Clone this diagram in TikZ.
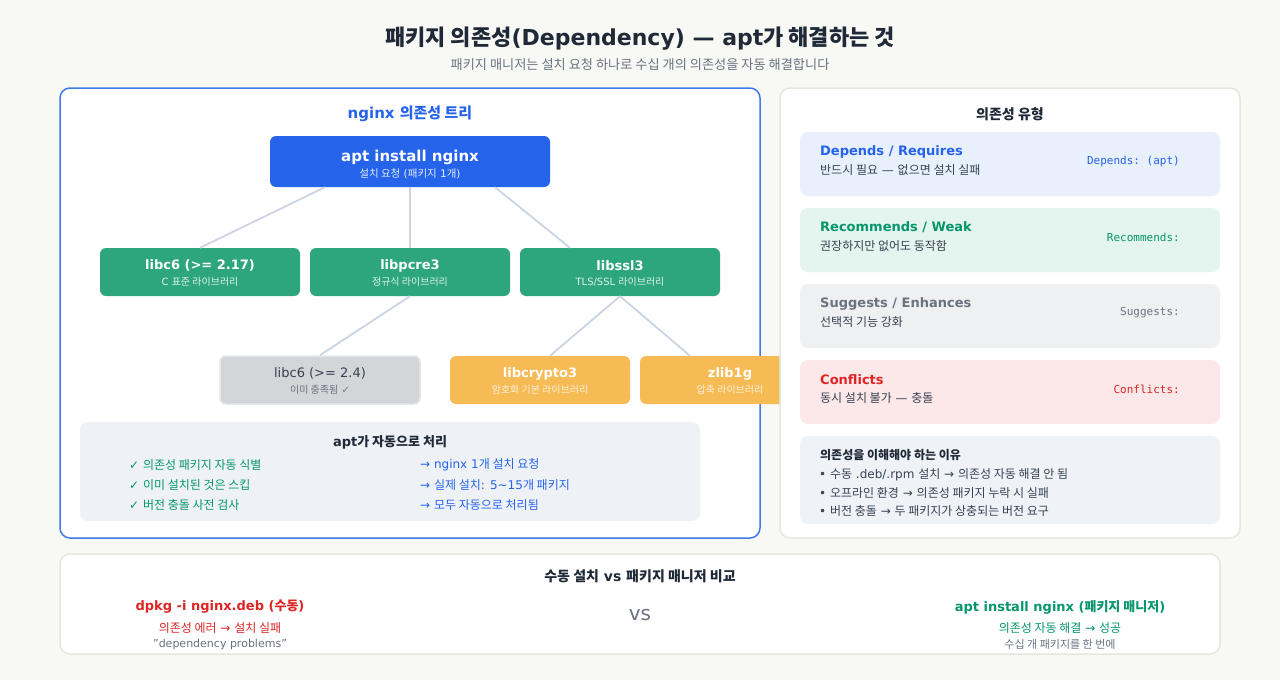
\documentclass[tikz,border=0pt]{standalone}
\usepackage{fontspec}
\setmainfont{DejaVu Sans}
\setmonofont{DejaVu Sans Mono}
\newfontfamily\krfont{Noto Sans CJK KR}
\newcommand\kr[1]{{\krfont #1}}
\newcommand\fsz[1]{\fontsize{#1}{#1}\selectfont}
\definecolor{bgc}{HTML}{F8F9F5}
\definecolor{darktxt}{HTML}{1F2937}
\definecolor{bodytxt}{HTML}{374151}
\definecolor{graytxt}{HTML}{6B7280}
\definecolor{aptblue}{HTML}{2563EB}
\definecolor{panelblue}{HTML}{4079EC}
\definecolor{boxgreen}{HTML}{2DA67E}
\definecolor{txtgreen}{HTML}{059669}
\definecolor{boxorange}{HTML}{F7BB55}
\definecolor{boxgray}{HTML}{D4D5D9}
\definecolor{boxgrayb}{HTML}{E6E7EA}
\definecolor{linkc}{HTML}{CBD5E1}
\definecolor{panelb}{HTML}{E5E7DE}
\definecolor{depfill}{HTML}{E8EFFD}
\definecolor{recfill}{HTML}{E4F4EE}
\definecolor{sugfill}{HTML}{EFF0F2}
\definecolor{confill}{HTML}{FCE8E8}
\definecolor{whyfill}{HTML}{EFF3F8}
\definecolor{aptfill}{HTML}{EEF2F7}
\definecolor{redtxt}{HTML}{DC2626}
\tikzset{
  panel/.style={draw=panelb, line width=1.5pt, fill=white, rounded corners=10pt, inner sep=0pt},
  pkgbox/.style={rounded corners=6pt, inner sep=0pt, minimum height=48pt},
  typebox/.style={rounded corners=8pt, inner sep=0pt, minimum width=420pt, minimum height=64pt},
  txt/.style={inner sep=0pt, text=bodytxt},
  link/.style={draw=linkc, line width=1.8pt},
}
\begin{document}
\begin{tikzpicture}[x=1pt,y=-1pt]
\useasboundingbox[fill=bgc] (0,0) rectangle (1280,680);
% title
\node[txt, text=darktxt, font=\fsz{22}\bfseries] (title) at (640,38.5) {\kr{패키지 의존성}(Dependency) — apt\kr{가 해결하는 것}};
\node[txt, text=graytxt, font=\fsz{13.2}] (subtitle) at (640,65) {\kr{패키지 매니저는 설치 요청 하나로 수십 개의 의존성을 자동 해결합니다}};
% left panel
\node[panel, draw=panelblue, minimum width=700pt, minimum height=450pt] (leftpanel) at (410,313) {};
\node[txt, text=aptblue, font=\fsz{15}\bfseries] (treetitle) at (410,114) {nginx \kr{의존성 트리}};
% top node
\node[pkgbox, fill=aptblue, minimum width=280pt, minimum height=51pt] (apt) at (410,161.5) {};
% level 1
\node[pkgbox, fill=boxgreen, minimum width=200pt] (libc) at (200,272) {};
\node[pkgbox, fill=boxgreen, minimum width=200pt] (pcre) at (410,272) {};
\node[pkgbox, fill=boxgreen, minimum width=200pt] (ssl) at (620,272) {};
% level 2
\node[pkgbox, fill=boxgray, draw=boxgrayb, line width=1.5pt, minimum width=200pt] (libcold) at (320,380) {};
\node[pkgbox, fill=boxorange, minimum width=180pt] (crypto) at (540,380) {};
\node[pkgbox, fill=boxorange, minimum width=180pt] (zlib) at (730,380) {};
% connectors
\draw[link] ([xshift=-85pt]apt.south) -- (libc.north);
\draw[link] (apt.south) -- (pcre.north);
\draw[link] ([xshift=85pt]apt.south) -- ([xshift=-50pt]ssl.north);
\draw[link] (pcre.south) -- (libcold.north);
\draw[link] (ssl.south) -- ([xshift=10pt]crypto.north);
\draw[link] (ssl.south) -- ([xshift=-40pt]zlib.north);
% texts in nodes
\node[txt, text=white, font=\fsz{15}\bfseries] (aptt) at (410,157) {apt install nginx};
\node[txt, text=white!88!aptblue, font=\fsz{10.5}] (apts) at (410,174) {\kr{설치 요청} (\kr{패키지} 1\kr{개})};
\node[txt, text=white, font=\fsz{13}\bfseries] (libct) at (200,265.5) {libc6 (>= 2.17)};
\node[txt, text=white!85!boxgreen, font=\fsz{10}] (libcs) at (200,282) {C \kr{표준 라이브러리}};
\node[txt, text=white, font=\fsz{13}\bfseries] (pcret) at (410,265.5) {libpcre3};
\node[txt, text=white!85!boxgreen, font=\fsz{10}] (pcres) at (410,282) {\kr{정규식 라이브러리}};
\node[txt, text=white, font=\fsz{13}\bfseries] (sslt) at (620,265.5) {libssl3};
\node[txt, text=white!85!boxgreen, font=\fsz{10}] (ssls) at (620,282) {TLS/SSL \kr{라이브러리}};
\node[txt, text=bodytxt, font=\fsz{13}] (libcoldt) at (320,373.5) {libc6 (>= 2.4)};
\node[txt, text=graytxt, font=\fsz{10}] (libcolds) at (320,390) {\kr{이미 충족됨} ✓};
\node[txt, text=white, font=\fsz{13}\bfseries] (cryptot) at (540,373.5) {libcrypto3};
\node[txt, text=white!80!boxorange, font=\fsz{10}] (cryptos) at (540,390) {\kr{암호화 기본 라이브러리}};
\node[txt, text=white, font=\fsz{13}\bfseries] (zlibt) at (730,373.5) {zlib1g};
\node[txt, text=white!80!boxorange, font=\fsz{10}] (zlibs) at (730,390) {\kr{압축 라이브러리}};
% apt box
\node[pkgbox, fill=aptfill, rounded corners=8pt, minimum width=620pt, minimum height=99pt] (aptbox) at (390,471.5) {};
\node[txt, text=darktxt, font=\fsz{13}\bfseries] (aptboxt) at (390,442) {apt\kr{가 자동으로 처리}};
\node[txt, text=txtgreen, font=\fsz{12}, anchor=west] (l1) at (129,465) {✓ \kr{의존성 패키지 자동 식별}};
\node[txt, text=txtgreen, font=\fsz{12}, anchor=west] (l2) at (129,485) {✓ \kr{이미 설치된 것은 스킵}};
\node[txt, text=txtgreen, font=\fsz{12}, anchor=west] (l3) at (129,505) {✓ \kr{버전 충돌 사전 검사}};
\node[txt, text=aptblue, font=\fsz{12}, anchor=west] (r1) at (420,465) {→ nginx 1\kr{개 설치 요청}};
\node[txt, text=aptblue, font=\fsz{12}, anchor=west] (r2) at (420,485) {→ \kr{실제 설치}: 5\textasciitilde15\kr{개 패키지}};
\node[txt, text=aptblue, font=\fsz{12}, anchor=west] (r3) at (420,505) {→ \kr{모두 자동으로 처리됨}};
% right panel
\node[panel, minimum width=460pt, minimum height=450pt] (rightpanel) at (1010,313) {};
\node[txt, text=darktxt, font=\fsz{14}\bfseries] (typetitle) at (1010,114) {\kr{의존성 유형}};
\node[typebox, fill=depfill] (dep) at (1010,164) {};
\node[typebox, fill=recfill] (rec) at (1010,240) {};
\node[typebox, fill=sugfill] (sug) at (1010,316) {};
\node[typebox, fill=confill] (con) at (1010,392) {};
\node[txt, text=aptblue, font=\fsz{13}\bfseries, anchor=west] (dept) at (820,151.5) {Depends / Requires};
\node[txt, font=\fsz{12}, anchor=west] (deps) at (820,170) {\kr{반드시 필요} — \kr{없으면 설치 실패}};
\node[txt, text=aptblue, font=\fsz{11}\ttfamily, anchor=east] (depm) at (1180,161) {Depends: (apt)};
\node[txt, text=txtgreen, font=\fsz{13}\bfseries, anchor=west] (rect) at (820,227.5) {Recommends / Weak};
\node[txt, font=\fsz{12}, anchor=west] (recs) at (820,246) {\kr{권장하지만 없어도 동작함}};
\node[txt, text=txtgreen, font=\fsz{11}\ttfamily, anchor=east] (recm) at (1180,237) {Recommends:};
\node[txt, text=graytxt, font=\fsz{13}\bfseries, anchor=west] (sugt) at (820,303.5) {Suggests / Enhances};
\node[txt, font=\fsz{12}, anchor=west] (sugs) at (820,322) {\kr{선택적 기능 강화}};
\node[txt, text=graytxt, font=\fsz{11}\ttfamily, anchor=east] (sugm) at (1180,313) {Suggests:};
\node[txt, text=redtxt, font=\fsz{13}\bfseries, anchor=west] (cont) at (820,379.5) {Conflicts};
\node[txt, font=\fsz{12}, anchor=west] (cons) at (820,398) {\kr{동시 설치 불가} — \kr{충돌}};
\node[txt, text=redtxt, font=\fsz{11}\ttfamily, anchor=east] (conm) at (1180,389) {Conflicts:};
\node[typebox, fill=whyfill, minimum height=88pt] (why) at (1010,480) {};
\node[txt, text=darktxt, font=\fsz{12}\bfseries, anchor=west] (whyt) at (820,455) {\kr{의존성을 이해해야 하는 이유}};
\node[txt, font=\fsz{12}, anchor=west] (w1) at (819,475) {• \kr{수동} .deb/.rpm \kr{설치} → \kr{의존성 자동 해결 안 됨}};
\node[txt, font=\fsz{12}, anchor=west] (w2) at (819,493) {• \kr{오프라인 환경} → \kr{의존성 패키지 누락 시 실패}};
\node[txt, font=\fsz{12}, anchor=west] (w3) at (819,511) {• \kr{버전 충돌} → \kr{두 패키지가 상충되는 버전 요구}};
% bottom panel
\node[panel, minimum width=1160pt, minimum height=100pt] (bottompanel) at (640,604) {};
\node[txt, text=darktxt, font=\fsz{14}\bfseries] (cmpt) at (640,576) {\kr{수동 설치} vs \kr{패키지 매니저 비교}};
\node[txt, text=redtxt, font=\fsz{13}\bfseries] (man1) at (220,607) {dpkg -i nginx.deb (\kr{수동})};
\node[txt, text=redtxt, font=\fsz{12}] (man2) at (220,628) {\kr{의존성 에러} → \kr{설치 실패}};
\node[txt, text=graytxt, font=\fsz{11}] (man3) at (220,644) {\char"22 dependency problems\char"22};
\node[txt, text=graytxt, font=\fsz{20}] (vs) at (640,615) {vs};
\node[txt, text=txtgreen, font=\fsz{13}\bfseries] (pm1) at (1060,607) {apt install nginx (\kr{패키지 매니저})};
\node[txt, text=txtgreen, font=\fsz{12}] (pm2) at (1060,628) {\kr{의존성 자동 해결} → \kr{성공}};
\node[txt, text=graytxt, font=\fsz{11}] (pm3) at (1060,644) {\kr{수십 개 패키지를 한 번에}};
\end{tikzpicture}
\end{document}
